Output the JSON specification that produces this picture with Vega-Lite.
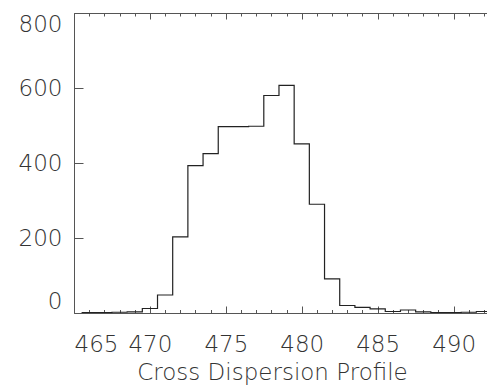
{
  "$schema": "https://vega.github.io/schema/vega-lite/v6.json",
  "width": 413,
  "height": 300,
  "autosize": "none",
  "padding": {"left": 74, "top": 13, "right": 0, "bottom": 76},
  "background": "white",
  "config": {
    "view": {"stroke": "#555", "strokeWidth": 1},
    "axis": {
      "domain": false,
      "grid": false,
      "labelFont": "DejaVu Sans",
      "labelFontSize": 23,
      "labelFontWeight": 200,
      "labelColor": "#333",
      "tickColor": "#555",
      "tickWidth": 1,
      "titleFont": "DejaVu Sans",
      "titleFontSize": 23,
      "titleFontWeight": 200,
      "titleColor": "#333",
      "labelOverlap": false
    }
  },
  "data": {
    "values": [
      {"x": 465.5, "y": 1}, {"x": 466.5, "y": 1}, {"x": 467.5, "y": 2}, {"x": 468.5, "y": 3},
      {"x": 469.5, "y": 12}, {"x": 470.5, "y": 48}, {"x": 471.5, "y": 203}, {"x": 472.5, "y": 393},
      {"x": 473.5, "y": 425}, {"x": 474.5, "y": 497}, {"x": 475.5, "y": 497}, {"x": 476.5, "y": 498},
      {"x": 477.5, "y": 580}, {"x": 478.5, "y": 607}, {"x": 479.5, "y": 451}, {"x": 480.5, "y": 290},
      {"x": 481.5, "y": 91}, {"x": 482.5, "y": 20}, {"x": 483.5, "y": 15}, {"x": 484.5, "y": 11},
      {"x": 485.5, "y": 4}, {"x": 486.5, "y": 8}, {"x": 487.5, "y": 3}, {"x": 488.5, "y": 1},
      {"x": 489.5, "y": 1}, {"x": 490.5, "y": 2}, {"x": 491.5, "y": 4}, {"x": 492.5, "y": 4}
    ]
  },
  "layer": [
    {
      "mark": {"type": "line", "interpolate": "step-after", "clip": true, "color": "#222", "strokeWidth": 1.2},
      "encoding": {
        "x": {
          "field": "x", "type": "quantitative",
          "scale": {"domain": [465, 492.2], "nice": false, "zero": false},
          "axis": {
            "orient": "bottom",
            "values": [465,466,467,468,469,470,471,472,473,474,475,476,477,478,479,480,481,482,483,484,485,486,487,488,489,490,491,492],
            "labelExpr": "datum.value % 5 === 0 ? datum.label : ''",
            "tickSize": {"condition": {"test": "datum.value % 5 === 0", "value": -7}, "value": -3.5},
            "labelPadding": 27,
            "title": "Cross Dispersion Profile",
            "titlePadding": 2,
            "titleX": 198,
            "titleAlign": "center"
          }
        },
        "y": {
          "field": "y", "type": "quantitative",
          "scale": {"domain": [0, 800], "nice": false},
          "axis": {
            "orient": "left",
            "values": [0,50,100,150,200,250,300,350,400,450,500,550,600,650,700,750,800],
            "labelExpr": "datum.value % 200 === 0 ? datum.label : ''",
            "tickSize": {"condition": {"test": "datum.value % 200 === 0", "value": -9}, "value": -5},
            "labelPadding": 21,
            "labelFlush": true,
            "title": null
          }
        }
      }
    },
    {
      "mark": {"type": "line", "interpolate": "step-after", "clip": true, "opacity": 0},
      "encoding": {
        "x": {
          "field": "x", "type": "quantitative",
          "scale": {"domain": [465, 492.2], "nice": false, "zero": false},
          "axis": {
            "orient": "top",
            "values": [465,466,467,468,469,470,471,472,473,474,475,476,477,478,479,480,481,482,483,484,485,486,487,488,489,490,491,492],
            "labels": false,
            "tickSize": {"condition": {"test": "datum.value % 5 === 0", "value": -6}, "value": -3},
            "title": null
          }
        },
        "y": {"field": "y", "type": "quantitative"}
      }
    }
  ],
  "resolve": {"scale": {"x": "independent"}}
}
